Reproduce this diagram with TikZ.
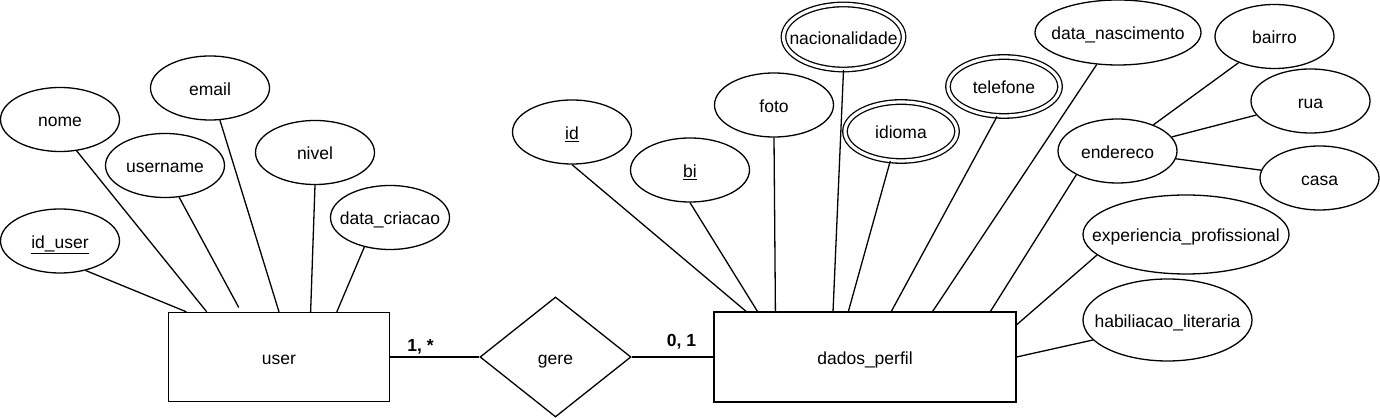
\documentclass[tikz,border=0pt]{standalone}
\usepackage{fontspec}
\setmainfont{Liberation Sans}
\usepackage{tikz}
\usetikzlibrary{positioning,shapes.geometric}
\newcommand{\attrtxt}[1]{\makebox[0pt]{#1}}

\begin{document}
\begin{tikzpicture}[x=1pt, y=1pt, on grid, line width=1.3pt,
		font=\fontsize{17.5}{21}\selectfont,
		attr/.style ={ ellipse, draw, black, text=black, inner sep=0pt,
			text height=16.5pt, text depth=1.5pt,
			minimum width=119pt, minimum height=64pt},
		multi/.style ={ attr, double, double distance=3.2pt},
		entity/.style ={ rectangle, draw, black, text=black,
			text height=16.5pt, text depth=1.5pt,
			minimum width=221pt, minimum height=89pt},
		rel/.style ={ diamond, draw, black, text=black, inner sep=0pt,
			text height=16.5pt, text depth=1.5pt,
			minimum width=151pt, minimum height=120pt},
		card/.style ={ font=\fontsize{17.5}{21}\selectfont\bfseries, inner sep=2pt}]
		\useasboundingbox (0,0) rectangle (1380,419);
		\node[entity] (user) at (279,62) {user};
		\node[rel] (gere) [right =276.5pt of user] {gere};
		\node[entity, minimum width=302pt, minimum height=90pt] (dados) [right =309.5pt of gere] {dados\_perfil};
		% atributos de user
		\node[attr] (iduser) [above left =116pt and 219pt of user] {\attrtxt{\underline{id\_user}}};
		\node[attr] (nome) [above left =237.5pt and 219pt of user] {\attrtxt{nome}};
		\node[attr] (username) [above left =191.5pt and 114pt of user] {\attrtxt{username}};
		\node[attr] (email) [above left =269pt and 69pt of user] {\attrtxt{email}};
		\node[attr] (nivel) [above right =204.5pt and 36pt of user] {\attrtxt{nivel}};
		\node[attr] (datacriacao) [above right =139.5pt and 111pt of user] {\attrtxt{data\_criacao}};
		% atributos de dados_perfil
		\node[attr] (id) [above left =225pt and 293pt of dados] {\attrtxt{\underline{id}}};
		\node[attr] (bi) [above left =187pt and 175pt of dados] {\attrtxt{\underline{bi}}};
		\node[attr] (foto) [above left =252pt and 91pt of dados] {\attrtxt{foto}};
		\node[multi, minimum width=120pt, minimum height=65pt] (nacionalidade) [above left =320pt and 21.5pt of dados] {\attrtxt{nacionalidade}};
		\node[multi, minimum width=112pt, minimum height=59pt] (idioma) [above right =225.5pt and 36pt of dados] {\attrtxt{idioma}};
		\node[multi, minimum width=112pt, minimum height=59pt] (telefone) [above right =270.5pt and 139pt of dados] {\attrtxt{telefone}};
		\node[attr, minimum width=166pt, minimum height=65pt] (datanasc) [above right =324.5pt and 253pt of dados] {\attrtxt{data\_nascimento}};
		\node[attr] (endereco) [above right =206pt and 252.5pt of dados] {\attrtxt{endereco}};
		\node[attr] (bairro) [above right =114.5pt and 157pt of endereco] {\attrtxt{bairro}};
		\node[attr] (rua) [above right =50pt and 193pt of endereco] {\attrtxt{rua}};
		\node[attr] (casa) [below right =27pt and 202pt of endereco] {\attrtxt{casa}};
		\node[attr, minimum width=206pt, minimum height=79pt] (experiencia) [above right =122.5pt and 321pt of dados] {\attrtxt{experiencia\_profissional}};
		\node[attr, minimum width=169pt, minimum height=82pt] (habiliacao) [above right =37pt and 302.5pt of dados] {\attrtxt{habiliacao\_literaria}};
		% relacionamento
		\path (user) edge[-] node[card, pos=0.34, above] {1, *} (gere); % user to gere
		\path (gere) edge[-] node[card, pos=0.61, above=5pt] {0, 1} (dados); % gere to dados_perfil
		% ligacoes de user
		\path (iduser.-49.5) edge[-] (user.154.5); % id_user
		\path (nome.-62) edge[-] (user.148.8); % nome
		\path (username.-66.4) edge[-, shorten >=5pt] (user.130.9); % username
		\path (email) edge[-] (user.90.6); % email
		\path (nivel.south) edge[-] (user.55.6); % nivel
		\path (datacriacao.-131) edge[-] (user.38.7); % data_criacao
		% ligacoes de dados_perfil
		\path (id.south) edge[-] (dados.159.4); % id
		\path (bi.south) edge[-] (dados.157.9); % bi
		\path (foto.south) edge[-] (dados.153.4); % foto
		\path (nacionalidade.south) edge[-] (dados.125.4); % nacionalidade
		\path (idioma.-110) edge[-] (dados.110.7); % idioma
		\path (telefone.-103) edge[-] (dados.60); % telefone
		\path (datanasc) edge[-] (dados.34.3); % data_nascimento
		\path (endereco.-150) edge[-] (dados.20.9); % endereco
		\path (experiencia.-167.8) edge[-] (dados.12.7); % experiencia_profissional
		\path (habiliacao.-165.9) edge[-] (dados.east); % habiliacao_literaria
		% endereco composto
		\path (bairro) edge[-] (endereco); % bairro
		\path (rua) edge[-] (endereco); % rua
		\path (casa) edge[-] (endereco); % casa
		\end{tikzpicture}
\end{document}
